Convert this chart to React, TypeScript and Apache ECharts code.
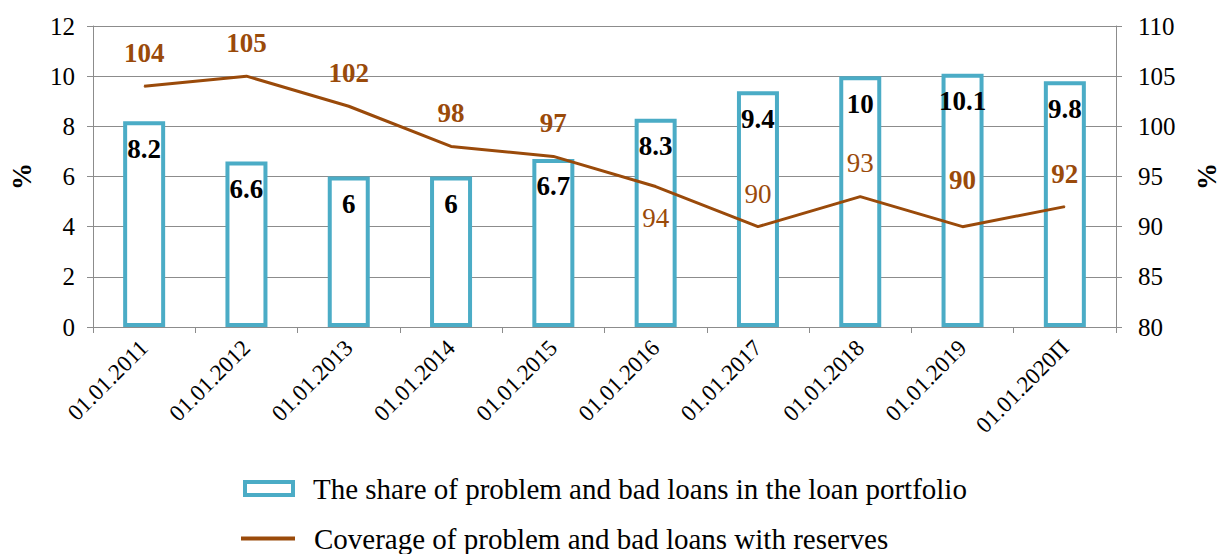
import React, { useEffect, useRef } from "react";
import * as echarts from "echarts";

const categories = [
  "01.01.2011",
  "01.01.2012",
  "01.01.2013",
  "01.01.2014",
  "01.01.2015",
  "01.01.2016",
  "01.01.2017",
  "01.01.2018",
  "01.01.2019",
  "01.01.2020П",
];
const shareValues = [8.2, 6.6, 6, 6, 6.7, 8.3, 9.4, 10, 10.1, 9.8];
const coverageValues = [104, 105, 102, 98, 97, 94, 90, 93, 90, 92];
const seriesNames = [
  "The share of problem and bad loans in the loan portfolio",
  "Coverage of problem and bad loans with reserves",
];
const leftAxis = { min: 0, max: 12, interval: 2 };
const rightAxis = { min: 80, max: 110, interval: 5 };

// label placement / weight (style only)
const lineLabelPlace: [string, number, string][] = [
  ["top", 19, "bold"],
  ["top", 19, "bold"],
  ["top", 19, "bold"],
  ["top", 19, "bold"],
  ["top", 19, "bold"],
  ["bottom", 17, "normal"],
  ["top", 19, "normal"],
  ["top", 20, "normal"],
  ["top", 33, "bold"],
  ["top", 19, "bold"],
];

const FONT = "'Liberation Serif', 'Times New Roman', serif";
const CYAN = "#4bacc6";
const BROWN = "#9a4a0a";
const GRID = "#8c8c8c";

export default function App() {
  const ref = useRef<HTMLDivElement>(null);
  useEffect(() => {
    if (!ref.current) return;
    const chart = echarts.init(ref.current, null, { renderer: "svg" });
    chart.setOption({
      animation: false,
      backgroundColor: "#ffffff",
      textStyle: { fontFamily: FONT },
      grid: { left: 88, right: 93, top: 26, bottom: 227, containLabel: false },
      legend: [
        {
          orient: "vertical",
          left: 243,
          top: 474,
          padding: 0,
          itemWidth: 48,
          itemHeight: 13,
          icon: "rect",
          itemStyle: { color: "#ffffff", borderColor: CYAN, borderWidth: 4 },
          textStyle: {
            fontFamily: FONT,
            fontSize: 29,
            color: "#000",
            padding: [0, 0, 0, 15],
          },
          data: [seriesNames[0]],
        },
        {
          orient: "vertical",
          left: 241,
          top: 524,
          padding: 0,
          itemWidth: 54,
          itemHeight: 4,
          icon: "rect",
          itemStyle: { color: BROWN, borderWidth: 0 },
          textStyle: {
            fontFamily: FONT,
            fontSize: 29,
            color: "#000",
            padding: [0, 0, 0, 14],
          },
          data: [seriesNames[1]],
        },
      ],
      xAxis: {
        type: "category",
        data: categories,
        boundaryGap: true,
        axisLine: { show: true, lineStyle: { color: GRID, width: 1 } },
        axisTick: { show: true, length: 6, alignWithLabel: false, lineStyle: { color: GRID } },
        axisLabel: {
          rotate: 45,
          interval: 0,
          fontFamily: FONT,
          fontSize: 23,
          color: "#000",
          margin: 17,
        },
      },
      yAxis: [
        {
          type: "value",
          min: leftAxis.min,
          max: leftAxis.max,
          interval: leftAxis.interval,
          name: "%",
          nameLocation: "middle",
          nameRotate: 90,
          nameGap: 58,
          nameTextStyle: { fontFamily: FONT, fontSize: 27, fontWeight: "bold", color: "#000" },
          axisLine: { show: true, lineStyle: { color: GRID } },
          axisTick: { show: true, length: 6, lineStyle: { color: GRID } },
          axisLabel: { fontFamily: FONT, fontSize: 25, color: "#000", margin: 18 },
          splitLine: { show: true, lineStyle: { color: GRID, width: 1 } },
        },
        {
          type: "value",
          min: rightAxis.min,
          max: rightAxis.max,
          interval: rightAxis.interval,
          position: "right",
          name: "%",
          nameLocation: "middle",
          nameRotate: 90,
          nameGap: 77,
          nameTextStyle: { fontFamily: FONT, fontSize: 27, fontWeight: "bold", color: "#000" },
          axisLine: { show: true, lineStyle: { color: GRID } },
          axisTick: { show: true, length: 6, lineStyle: { color: GRID } },
          axisLabel: { fontFamily: FONT, fontSize: 25, color: "#000", margin: 22 },
          splitLine: { show: false },
        },
      ],
      series: [
        {
          name: seriesNames[0],
          type: "bar",
          yAxisIndex: 0,
          barWidth: 42,
          itemStyle: { color: "#ffffff", borderColor: CYAN, borderWidth: 4 },
          label: {
            show: true,
            position: "insideTop",
            distance: 14,
            fontFamily: FONT,
            fontSize: 27,
            fontWeight: "bold",
            color: "#000",
          },
          data: shareValues,
          z: 2,
        },
        {
          name: seriesNames[1],
          type: "line",
          yAxisIndex: 1,
          symbol: "circle",
          symbolSize: 1,
          showSymbol: true,
          lineStyle: { color: BROWN, width: 3 },
          itemStyle: { color: BROWN },
          data: coverageValues.map((v, i) => ({
            value: v,
            label: {
              show: true,
              position: lineLabelPlace[i][0],
              distance: lineLabelPlace[i][1],
              fontFamily: FONT,
              fontSize: 27,
              fontWeight: lineLabelPlace[i][2],
              color: BROWN,
            },
          })),
          z: 3,
        },
      ],
    });
    return () => chart.dispose();
  }, []);
  return (
    <div
      ref={ref}
      style={{ position: "fixed", left: 0, top: 0, width: 1228, height: 554 }}
    />
  );
}
